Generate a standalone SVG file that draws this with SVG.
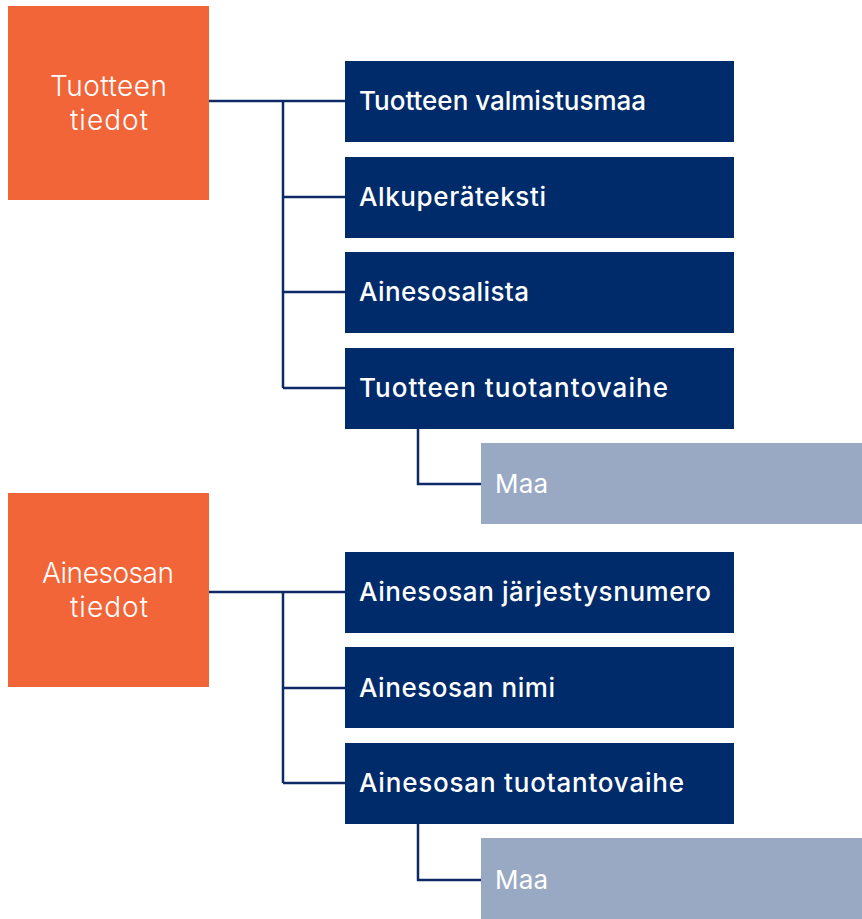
<svg xmlns="http://www.w3.org/2000/svg" width="862" height="919" viewBox="0 0 862 919">
<style>
.cat{fill:#f26539}
.item{fill:#002b6b}
.sub{fill:#99a9c3}
.ct{font-family:Inter,"Liberation Sans",sans-serif;font-size:28px;font-weight:300;fill:#fff}
.it{font-family:Inter,"Liberation Sans",sans-serif;font-size:26px;font-weight:480;fill:#fff}
.st{font-family:Inter,"Liberation Sans",sans-serif;font-size:26px;font-weight:400;fill:#fff}
.conn{fill:none;stroke:#0e2a66;stroke-width:2.5}
</style>
<rect width="862" height="919" fill="#fff"/>
<g id="connectors" class="conn">
<path d="M209 101H345M283 101V388M283 197H345M283 292H345M283 388H345"/>
<path d="M418 429V484H481"/>
<path d="M209 592H345M283 592V783M283 688H345M283 783H345"/>
<path d="M418 824V880H481"/>
</g>
<g id="n-tuotteen-tiedot"><rect class="cat" x="8" y="6" width="201" height="194"/><text class="ct" x="50" y="96" textLength="117" lengthAdjust="spacing">Tuotteen</text><text class="ct" x="70" y="130" textLength="78" lengthAdjust="spacing">tiedot</text></g>
<g id="n-valmistusmaa"><rect class="item" x="345" y="61" width="389" height="81"/><text class="it" x="359" y="110" textLength="287" lengthAdjust="spacing">Tuotteen valmistusmaa</text></g>
<g id="n-alkuperateksti"><rect class="item" x="345" y="157" width="389" height="81"/><text class="it" x="359" y="206" textLength="187" lengthAdjust="spacing">Alkuperäteksti</text></g>
<g id="n-ainesosalista"><rect class="item" x="345" y="252" width="389" height="81"/><text class="it" x="359" y="301" textLength="170" lengthAdjust="spacing">Ainesosalista</text></g>
<g id="n-tuotantovaihe"><rect class="item" x="345" y="348" width="389" height="81"/><text class="it" x="359" y="397" textLength="309" lengthAdjust="spacing">Tuotteen tuotantovaihe</text></g>
<g id="n-maa1"><rect class="sub" x="481" y="443" width="381" height="81"/><text class="st" x="495" y="493" textLength="53" lengthAdjust="spacing">Maa</text></g>
<g id="n-ainesosan-tiedot"><rect class="cat" x="8" y="493" width="201" height="194"/><text class="ct" x="42" y="583" textLength="132" lengthAdjust="spacing">Ainesosan</text><text class="ct" x="70" y="617" textLength="78" lengthAdjust="spacing">tiedot</text></g>
<g id="n-jarjestysnumero"><rect class="item" x="345" y="552" width="389" height="81"/><text class="it" x="359" y="601" textLength="352" lengthAdjust="spacing">Ainesosan järjestysnumero</text></g>
<g id="n-nimi"><rect class="item" x="345" y="647" width="389" height="81"/><text class="it" x="359" y="697" textLength="196" lengthAdjust="spacing">Ainesosan nimi</text></g>
<g id="n-ainesosan-tuotantovaihe"><rect class="item" x="345" y="743" width="389" height="81"/><text class="it" x="359" y="792" textLength="325" lengthAdjust="spacing">Ainesosan tuotantovaihe</text></g>
<g id="n-maa2"><rect class="sub" x="481" y="838" width="381" height="81"/><text class="st" x="495" y="889" textLength="53" lengthAdjust="spacing">Maa</text></g>
</svg>
